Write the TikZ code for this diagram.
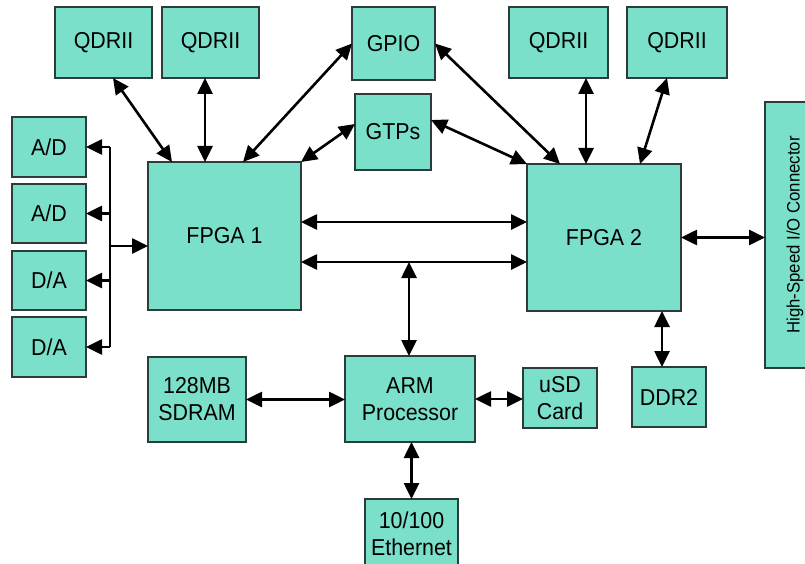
\documentclass[tikz,border=0pt]{standalone}
\usepackage{fontspec}
\setmainfont{Liberation Sans}
\newfontfamily\blkfont[FakeStretch=0.93]{Liberation Sans}
\usetikzlibrary{arrows.meta}
\definecolor{blkfill}{RGB}{122,224,202}
\definecolor{blkline}{RGB}{45,60,58}
\tikzset{
  blk/.style={draw=blkline, fill=blkfill, line width=1.2pt, inner sep=0pt, outer sep=0pt,
    align=center, font=\blkfont\fontsize{23}{27}\selectfont},
  twohead/.style={line width=2.6pt, {Triangle[length=16pt,width=15pt]}-{Triangle[length=16pt,width=15pt]}},
  onehead/.style={line width=2.6pt, -{Triangle[length=16pt,width=15pt]}},
  busline/.style={line width=2.6pt}
}
\begin{document}
\begin{tikzpicture}[x=1pt,y=-1pt]
\useasboundingbox (0,0) rectangle (805,564);

% memory and I/O blocks along the top
\node[blk, minimum width=97, minimum height=71] (q1) at (103.5,42.5) {QDRII};
\node[blk, minimum width=97, minimum height=71] (q2) at (210.5,42.5) {QDRII};
\node[blk, minimum width=83, minimum height=73] (gpio) at (393.5,43.5) {GPIO};
\node[blk, minimum width=76, minimum height=76] (gtps) at (393,132) {GTPs};
\node[blk, minimum width=99, minimum height=71] (q3) at (558.5,42.5) {QDRII};
\node[blk, minimum width=100, minimum height=71] (q4) at (677,42.5) {QDRII};

% high-speed connector on the right edge
\node[blk, minimum width=60, minimum height=266] (hs) at (795,235)
  {\rotatebox{90}{\fontsize{18}{20}\selectfont High-Speed I/O Connector}};

% FPGAs
\node[blk, minimum width=153, minimum height=148] (fpga1) at (224.5,236) {FPGA 1};
\node[blk, minimum width=154, minimum height=147] (fpga2) at (604,237.5) {FPGA 2};

% converters
\node[blk, minimum width=74, minimum height=60] (ad1) at (49,147) {A/D};
\node[blk, minimum width=74, minimum height=59] (ad2) at (49,213.5) {A/D};
\node[blk, minimum width=74, minimum height=59] (da1) at (49,280.5) {D/A};
\node[blk, minimum width=74, minimum height=60] (da2) at (49,347) {D/A};

% processor subsystem
\node[blk, minimum width=98, minimum height=85] (sdram) at (197,399.5) {128MB\\SDRAM};
\node[blk, minimum width=130, minimum height=86] (arm) at (410,399) {ARM\\Processor};
\node[blk, minimum width=74, minimum height=60] (usd) at (560,398) {uSD\\Card};
\node[blk, minimum width=74, minimum height=60] (ddr2) at (669,397) {DDR2};
\node[blk, minimum width=93, minimum height=70] (eth) at (411.5,534) {10/100\\Ethernet};

% converter bus
\coordinate (bus) at (110,0);
\coordinate (busin) at (110,246);
\draw[busline] (bus |- ad1.east) -- (bus |- da2.east);
\draw[onehead] (bus |- ad1.east) -- (ad1.east);
\draw[onehead] (bus |- ad2.east) -- (ad2.east);
\draw[onehead] (bus |- da1.east) -- (da1.east);
\draw[onehead] (bus |- da2.east) -- (da2.east);
\draw[onehead] (busin) -- (busin -| fpga1.west);

% FPGA 1 links
\draw[twohead] ([xshift=9.5pt]q1.south) -- ([xshift=-52.5pt]fpga1.north);
\draw[twohead] ([xshift=-5.5pt]q2.south) -- ([xshift=-5.5pt]q2.south |- fpga1.north);
\draw[twohead] (gpio.west) -- ([xshift=18.5pt]fpga1.north);
\draw[twohead] ([yshift=8pt]gtps.west) -- (fpga1.north east);

% FPGA 2 links
\draw[twohead] (gpio.east) -- ([xshift=-44pt]fpga2.north);
\draw[twohead] ([yshift=12pt]gtps.east) -- (fpga2.north west);
\draw[twohead] ([xshift=27.5pt]q3.south) -- ([xshift=27.5pt]q3.south |- fpga2.north);
\draw[twohead] ([xshift=-10pt]q4.south) -- ([xshift=36pt]fpga2.north);
\draw[twohead] (fpga2.east) -- (fpga2.east -| hs.west);
\draw[twohead] ([xshift=-7pt]ddr2.north |- fpga2.south) -- ([xshift=-7pt]ddr2.north);

% FPGA to FPGA
\draw[twohead] ([yshift=14pt]fpga1.east) -- ([yshift=14pt]fpga1.east -| fpga2.west);
\draw[twohead] ([yshift=-26pt]fpga1.east) coordinate (lowbus) -- (lowbus -| fpga2.west);

% processor links
\coordinate (tap) at ([xshift=-1pt]arm.north |- lowbus);
\draw[twohead] (tap) -- (tap |- arm.north);
\draw[twohead] (sdram.east) -- (sdram.east -| arm.west);
\draw[twohead] (arm.east) -- (arm.east -| usd.west);
\draw[twohead] ([xshift=1.5pt]arm.south) -- ([xshift=1.5pt]arm.south |- eth.north);
\end{tikzpicture}
\end{document}
